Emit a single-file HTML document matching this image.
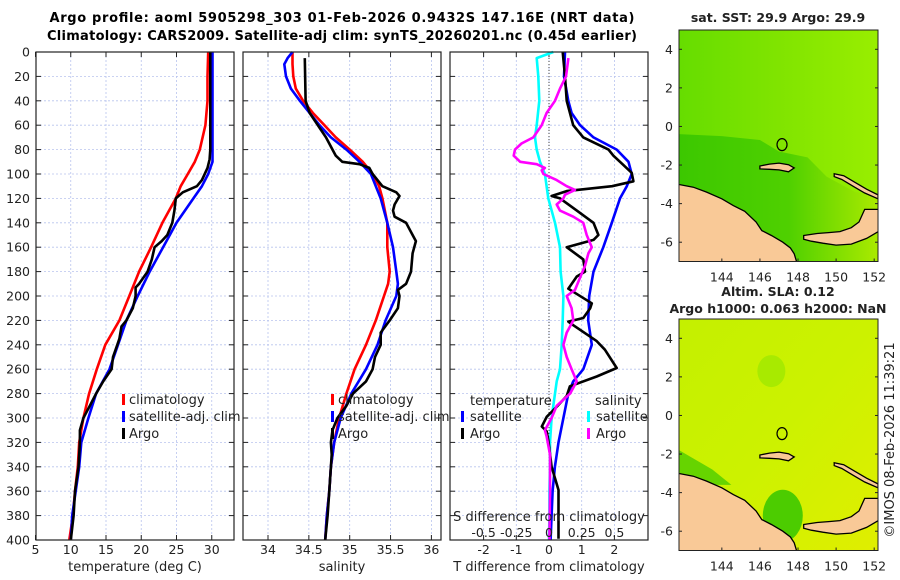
<!DOCTYPE html>
<html><head><meta charset="utf-8">
<style>
html,body{margin:0;padding:0;background:#fff;}
svg{display:block;font-family:"DejaVu Sans","Liberation Sans",sans-serif;}
</style></head>
<body>
<svg id="fig" width="900" height="580" viewBox="0 0 900 580" xmlns="http://www.w3.org/2000/svg">
<text x="342" y="22" text-anchor="middle" font-size="13" font-weight="bold" textLength="585">Argo profile: aoml 5905298_303 01-Feb-2026 0.9432S 147.16E (NRT data)</text>
<text x="342" y="40" text-anchor="middle" font-size="13" font-weight="bold" textLength="590">Climatology: CARS2009. Satellite-adj clim: synTS_20260201.nc (0.45d earlier)</text>
<g id="panels"></g>
<g id="maps"></g>
<text transform="translate(894,440) rotate(-90)" text-anchor="middle" font-size="13" fill="#222">©IMOS 08-Feb-2026 11:39:21</text>
</svg>
<script>
// ---------- data ----------
const depthTicks = [0,20,40,60,80,100,120,140,160,180,200,220,240,260,280,300,320,340,360,380,400];
const tempTicks = [5,10,15,20,25,30];
const salTicks = [34,34.5,35,35.5,36];
const tdiffTicks = [-2,-1,0,1,2];
const sdiffTicks = [-0.5,-0.25,0,0.25,0.5];
const sdiffLabels = ["-0.5","-0.25","0","0.25","0.5"];

const tClimDepth = [0,20,40,60,80,90,100,110,120,140,160,180,200,220,240,260,280,300,320,340,360,380,400];
const tClimVal   = [29.5,29.4,29.4,29.1,28.3,27.6,26.6,25.6,24.9,23.0,21.4,19.7,18.3,16.9,14.9,13.7,12.6,11.8,11.2,11.0,10.6,10.3,9.8];
const tSatDepth = [0,80,90,100,110,120,140,160,180,200,220,240,260,280,300,320,340,360,380,400];
const tSatVal   = [30.1,30.1,30.1,29.5,28.6,27.4,25.0,23.1,21.2,19.5,17.9,16.7,15.5,13.6,12.5,11.5,11.2,10.7,10.2,10.0];
const tArgoDepth = [0,80,88,95,105,110,115,120,130,140,150,155,160,170,180,190,193,200,210,220,225,235,240,250,260,270,280,290,300,310,320,340,360,380,400];
const tArgoVal   = [29.8,29.8,29.7,29.4,28.6,27.9,25.9,24.9,24.7,24.4,23.7,22.9,21.9,21.5,20.9,19.7,19.2,19.2,18.8,17.9,17.2,16.9,16.6,16.0,15.8,14.6,13.6,12.7,11.8,11.3,11.3,11.1,10.6,10.4,10.0];

const sClimDepth = [0,10,20,30,40,50,60,70,80,90,100,110,120,140,160,180,190,200,220,240,260,280,300,320,340,360,380,400];
const sClimVal   = [34.30,34.30,34.31,34.34,34.43,34.55,34.69,34.83,35.00,35.16,35.28,35.36,35.40,35.46,35.46,35.49,35.47,35.42,35.32,35.20,35.06,34.96,34.87,34.81,34.77,34.75,34.72,34.70];
const sSatDepth = [0,5,10,20,30,40,50,60,70,80,90,100,120,140,160,180,190,200,220,240,260,280,300,320,340,360,380,400];
const sSatVal   = [34.30,34.24,34.20,34.22,34.28,34.39,34.51,34.63,34.77,34.96,35.12,35.26,35.38,35.46,35.53,35.57,35.59,35.57,35.44,35.34,35.20,35.02,34.89,34.81,34.77,34.75,34.72,34.70];
const sArgoDepth = [5,40,50,60,70,80,85,90,92,95,100,110,115,118,125,130,135,140,150,155,165,180,190,195,200,210,220,230,240,250,260,270,280,290,300,310,320,330,340,360,380,400];
const sArgoVal   = [34.45,34.46,34.51,34.61,34.71,34.79,34.83,34.91,35.12,35.24,35.28,35.40,35.57,35.61,35.55,35.53,35.55,35.69,35.77,35.81,35.77,35.75,35.69,35.59,35.61,35.59,35.49,35.38,35.38,35.31,35.28,35.20,35.04,34.96,34.85,34.79,34.77,34.78,34.77,34.75,34.73,34.70];

const dTSatDepth = [0,20,40,50,60,70,80,90,100,110,120,140,160,170,180,200,220,240,260,270,280,300,320,340,360,380,400];
const dTSatVal   = [0.49,0.46,0.59,0.69,0.95,1.36,2.07,2.43,2.53,2.38,2.17,1.92,1.66,1.51,1.36,1.23,1.20,1.31,1.05,0.74,0.59,0.44,0.29,0.18,0.11,0.08,0.05];
const dTArgoDepth = [0,20,40,60,70,80,85,90,99,106,110,114,118,120,130,140,150,154,160,170,180,184,194,206,210,218,221,223,237,244,259,266,274,282,291,299,307,311,318,340,359,378,399];
const dTArgoVal   = [0.42,0.49,0.54,0.74,1.05,1.82,1.97,2.17,2.53,2.58,1.93,0.54,0.08,0.34,0.85,1.36,1.51,1.36,0.54,1.05,1.10,0.85,0.59,1.31,1.26,1.05,0.59,0.69,1.46,1.71,2.07,1.46,0.64,0.54,0.23,-0.07,-0.22,-0.07,-0.02,0.08,0.29,0.29,0.29];
const dSSatDepth = [0,5,20,40,60,70,80,90,100,120,140,160,180,200,220,240,260,270,280,300,320,340,360,380,400];
const dSSatVal   = [0.033,-0.094,-0.082,-0.074,-0.094,-0.107,-0.094,-0.069,-0.031,-0.005,0.046,0.084,0.089,0.110,0.105,0.097,0.084,0.059,0.046,0.020,0.008,0.008,0.003,0.003,0.0];
const dSArgoDepth = [5,20,30,40,50,60,70,75,80,85,90,92,95,97,100,105,110,113,117,120,125,130,135,140,150,160,165,175,185,195,200,210,220,230,240,250,260,270,280,290,300,310,315,330,360,400];
const dSArgoVal   = [0.148,0.130,0.084,0.046,-0.018,-0.056,-0.120,-0.210,-0.260,-0.270,-0.220,-0.094,-0.031,-0.056,-0.043,0.059,0.135,0.199,0.122,0.110,0.059,0.084,0.186,0.262,0.288,0.327,0.301,0.276,0.237,0.199,0.135,0.173,0.186,0.135,0.110,0.135,0.173,0.212,0.161,0.059,0.020,-0.031,-0.018,0.008,0.008,0.003];

const mapLonTicks = [144,146,148,150,152];
const mapLatTicks = [4,2,0,-2,-4,-6];
const argoLon = 147.16, argoLat = -0.9432;

// ---------- helpers ----------
const NS="http://www.w3.org/2000/svg";
function mk(tag, attrs, parent){const e=document.createElementNS(NS,tag);for(const k in attrs)e.setAttribute(k,attrs[k]);if(parent)parent.appendChild(e);return e;}
const Y0=52, Y1=540;
const yD = d => Y0 + d*(Y1-Y0)/400;
const panels=document.getElementById('panels');

function axesFrame(x0,x1,xs,xticks,name){
  const g=mk('g',{},panels);
  
  
  depthTicks.forEach(d=>{ if(d>0&&d<400) mk('line',{x1:x0,x2:x1,y1:yD(d),y2:yD(d),stroke:'#b8c4ee','stroke-width':0.8,'stroke-dasharray':'2,2'},g);});
  xticks.forEach(v=>{const x=xs(v); if(x>x0&&x<x1) mk('line',{x1:x,x2:x,y1:Y0,y2:Y1,stroke:'#b8c4ee','stroke-width':0.8,'stroke-dasharray':'2,2'},g);});
  depthTicks.forEach(d=>{mk('line',{x1:x0,x2:x0+5,y1:yD(d),y2:yD(d),stroke:'#222'},g);mk('line',{x1:x1-5,x2:x1,y1:yD(d),y2:yD(d),stroke:'#222'},g);});
  xticks.forEach(v=>{const x=xs(v);mk('line',{x1:x,x2:x,y1:Y1,y2:Y1-5,stroke:'#222'},g);mk('line',{x1:x,x2:x,y1:Y0,y2:Y0+5,stroke:'#222'},g);});
  return g;
}
function drawLine(g,xs,depths,vals,color,name){
  const pts=depths.map((d,i)=>xs(vals[i]).toFixed(1)+','+yD(d).toFixed(1)).join(' ');
  const p=mk('polyline',{points:pts,fill:'none',stroke:color,'stroke-width':2.6,'stroke-linejoin':'round'},g);
  
  
}
function box(g,x0,x1){mk('rect',{x:x0,y:Y0,width:x1-x0,height:Y1-Y0,fill:'none',stroke:'#222','stroke-width':1.2},g);}
function txt(g,x,y,s,attrs,name){const t=mk('text',Object.assign({x:x,y:y,'font-size':12.5,fill:'#222'},attrs||{}),g);t.textContent=s;return t;}

// Panel 1: temperature
const xT = v => 35.5 + (v-5)*7.05;
const g1=axesFrame(36,234,xT,tempTicks,'temperature-panel');
drawLine(g1,xT,tClimDepth,tClimVal,'#ff0000','temp-climatology-line');
drawLine(g1,xT,tSatDepth,tSatVal,'#0000ff','temp-satellite-line');
drawLine(g1,xT,tArgoDepth,tArgoVal,'#000000','temp-argo-line');
box(g1,36,234);
depthTicks.forEach(d=>txt(g1,30,yD(d)+4.5,String(d),{'text-anchor':'end'},'depth-tick-label'));
tempTicks.forEach(v=>txt(g1,xT(v),554,String(v),{'text-anchor':'middle'},'temp-tick-label'));
txt(g1,135,571,'temperature (deg C)',{'text-anchor':'middle','font-size':13},'temp-x-axis-title');

function legend(g,x,items){
  items.forEach((it,i)=>{const y=404+i*17;
    mk('rect',{x:x,y:y-10,width:3,height:11,fill:it[1]},g);
    txt(g,x+7,y,it[0],{'font-size':13},'legend-entry');});
}
legend(g1,122,[['climatology','#ff0000'],['satellite-adj. clim','#0000ff'],['Argo','#000']]);

// Panel 2: salinity
const xS = v => 268 + (v-34)*81.7;
const g2=axesFrame(243,441,xS,salTicks,'salinity-panel');
drawLine(g2,xS,sClimDepth,sClimVal,'#ff0000','sal-climatology-line');
drawLine(g2,xS,sSatDepth,sSatVal,'#0000ff','sal-satellite-line');
drawLine(g2,xS,sArgoDepth,sArgoVal,'#000000','sal-argo-line');
legend(g2,331,[['climatology','#ff0000'],['satellite-adj. clim','#0000ff'],['Argo','#000']]);
box(g2,243,441);
salTicks.forEach(v=>txt(g2,xS(v),554,String(v),{'text-anchor':'middle'},'sal-tick-label'));
txt(g2,342,571,'salinity',{'text-anchor':'middle','font-size':13},'sal-x-axis-title');

// Panel 3: differences
const xDT = v => 549 + v*32.7;
const xDS = v => 549 + v*130.8;
const g3=axesFrame(450,648,xDT,tdiffTicks,'difference-panel');
mk('line',{x1:549,x2:549,y1:Y0,y2:Y1,stroke:'#444','stroke-width':1,'stroke-dasharray':'1,2'},g3);
drawLine(g3,xDS,dSSatDepth,dSSatVal,'#00ffff','sdiff-satellite-line');
drawLine(g3,xDT,dTSatDepth,dTSatVal,'#0000ff','tdiff-satellite-line');
drawLine(g3,xDT,dTArgoDepth,dTArgoVal,'#000000','tdiff-argo-line');
drawLine(g3,xDS,dSArgoDepth,dSArgoVal,'#ff00ff','sdiff-argo-line');
box(g3,450,648);
txt(g3,470,405,'temperature',{'font-size':13},'legend-temperature-header');
txt(g3,595,405,'salinity',{'font-size':13},'legend-salinity-header');
[['satellite','#0000ff',461,421],['Argo','#000',461,438],['satellite','#00ffff',587,421],['Argo','#ff00ff',587,438]].forEach(it=>{
  mk('rect',{x:it[2],y:it[3]-10,width:3,height:11,fill:it[1]},g3);
  txt(g3,it[2]+9,it[3],it[0],{'font-size':13},'legend-entry');});
txt(g3,549,521,'S difference from climatology',{'text-anchor':'middle','font-size':13},'sdiff-axis-title');
sdiffTicks.forEach((v,i)=>txt(g3,xDS(v),537,sdiffLabels[i],{'text-anchor':'middle'},'sdiff-tick-label'));
tdiffTicks.forEach(v=>txt(g3,xDT(v),554,String(v),{'text-anchor':'middle'},'tdiff-tick-label'));
txt(g3,549,571,'T difference from climatology',{'text-anchor':'middle','font-size':13},'tdiff-x-axis-title');

// ---------- maps ----------
const maps=document.getElementById('maps');
const defs=mk('defs',{},maps);
function grad(id,stops,x1,y1,x2,y2){const l=mk('linearGradient',{id:id,x1:x1,y1:y1,x2:x2,y2:y2},defs);stops.forEach(s=>mk('stop',{offset:s[0],'stop-color':s[1]},l));}
grad('sstTop',[[0,'#66dd00'],[0.5,'#80e400'],[1,'#99ee00']],0,0,1,0);
grad('sstLow',[[0,'#3cc800'],[0.55,'#4fd000'],[1,'#aaea00']],0,0,1,0);
grad('slaBg',[[0,'#c4f000'],[0.5,'#ccf200'],[1,'#e0ee00']],0,0,1,1);

const land1=[[141.7,-3.0],[142.5,-3.15],[143.2,-3.4],[144,-3.75],[144.6,-4.1],[145.2,-4.4],[145.8,-4.95],[146.1,-5.4],[146.6,-5.65],[147.2,-6.0],[147.6,-6.3],[147.8,-6.6],[147.95,-7.1],[141.7,-7.1]];
const land2=[[148.3,-5.65],[149,-5.55],[149.6,-5.5],[150.2,-5.45],[150.8,-5.25],[151.2,-4.95],[151.5,-4.3],[152.3,-4.3],[152.3,-5.4],[151.6,-5.8],[150.8,-6.1],[150,-6.15],[149.3,-6.05],[148.7,-5.95],[148.3,-5.85]];
const land3=[[149.9,-2.45],[150.4,-2.55],[151,-2.9],[151.6,-3.25],[152.2,-3.55],[152.2,-3.75],[151.5,-3.45],[150.9,-3.1],[150.3,-2.75],[149.9,-2.6]];
const land4=[[146.0,-2.05],[146.5,-1.95],[147.0,-1.9],[147.5,-1.98],[147.8,-2.15],[147.5,-2.35],[147.0,-2.25],[146.5,-2.22],[146.0,-2.2]];

function drawMap(y0,y1,kind,name){
  const X0=679,X1=878;
  const xl=lon=>X0+(lon-141.75)*(X1-X0)/(152.2-141.75);
  const yl=lat=>y0+(5-lat)*(y1-y0)/12;
  const g=mk('g',{},maps);
  
  
  const cp='clip'+kind; const c=mk('clipPath',{id:cp},defs); mk('rect',{x:X0,y:y0,width:X1-X0,height:y1-y0},c);
  const inner=mk('g',{'clip-path':'url(#'+cp+')'},g);
  if(kind==='sst'){
    mk('rect',{x:X0,y:y0,width:X1-X0,height:y1-y0,fill:'url(#sstTop)'},inner);
    mk('polygon',{points:[[141.75,-0.4],[144,-0.5],[146,-0.7],[147,-1.3],[148.5,-1.6],[149.5,-2.6],[151,-3.4],[152.2,-3.6],[152.2,-7],[141.75,-7]].map(p=>xl(p[0])+','+yl(p[1])).join(' '),fill:'url(#sstLow)'},inner);
  } else {
    mk('rect',{x:X0,y:y0,width:X1-X0,height:y1-y0,fill:'url(#slaBg)'},inner);
    mk('ellipse',{cx:xl(146.6),cy:yl(2.3),rx:14,ry:16,fill:'#a8ea00'},inner);
    mk('ellipse',{cx:xl(147.2),cy:yl(-5.2),rx:20,ry:26,fill:'#4ccc00'},inner);
    mk('polygon',{points:[[141.75,-1.8],[143.5,-2.8],[144.5,-3.6],[141.75,-3.6]].map(p=>xl(p[0])+','+yl(p[1])).join(' '),fill:'#66d400'},inner);
  }
  [land1,land2,land3,land4].forEach(L=>mk('polygon',{points:L.map(p=>xl(p[0]).toFixed(1)+','+yl(p[1]).toFixed(1)).join(' '),fill:'#f9c997',stroke:'#000','stroke-width':1.3},inner));
  const circ=mk('ellipse',{cx:xl(argoLon),cy:yl(argoLat),rx:5,ry:6,fill:'none',stroke:'#000','stroke-width':1.2},inner);
  
  
  mk('rect',{x:X0,y:y0,width:X1-X0,height:y1-y0,fill:'none',stroke:'#222','stroke-width':1},g);
  mapLatTicks.forEach(v=>{const y=yl(v);mk('line',{x1:X0,x2:X0+3,y1:y,y2:y,stroke:'#222'},g);mk('line',{x1:X1-3,x2:X1,y1:y,y2:y,stroke:'#222'},g);txt(g,673,y+4.5,String(v),{'text-anchor':'end'},'map-lat-tick-label');});
  mapLonTicks.forEach(v=>{const x=xl(v);mk('line',{x1:x,x2:x,y1:y1,y2:y1-3,stroke:'#222'},g);txt(g,x,y1+20,String(v),{'text-anchor':'middle'},'map-lon-tick-label');});
}
drawMap(30,261.5,'sst','sst-map');
drawMap(319,550.5,'sla','sla-map');
const mg=maps;
txt(mg,778,22,'sat. SST: 29.9 Argo: 29.9',{'text-anchor':'middle','font-weight':'bold','font-size':12.5},'sst-map-title');
txt(mg,778,296,'Altim. SLA: 0.12',{'text-anchor':'middle','font-weight':'bold','font-size':12.5},'sla-map-title');
txt(mg,778,313,'Argo h1000: 0.063 h2000: NaN',{'text-anchor':'middle','font-weight':'bold','font-size':12.5},'sla-map-subtitle');
</script>
</body></html>
